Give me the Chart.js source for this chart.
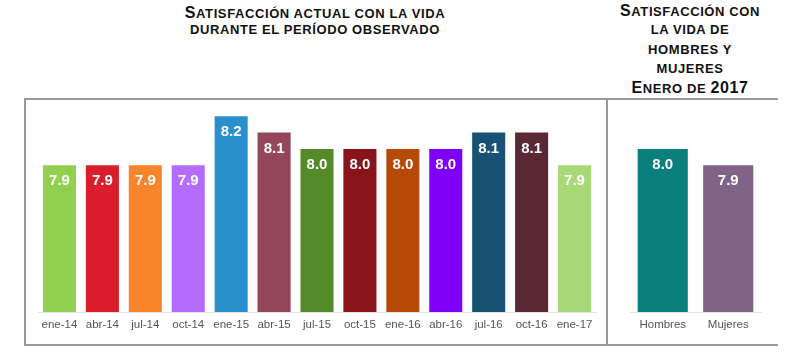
<!DOCTYPE html>
<html>
<head>
<meta charset="utf-8">
<script src="https://cdn.jsdelivr.net/npm/chart.js@4.4.1/dist/chart.umd.min.js"></script>
<style>
  html, body { margin: 0; padding: 0; background: #fff; }
  body { width: 800px; height: 363px; position: relative; overflow: hidden; font-family: "Liberation Sans", Arial, sans-serif; }
  .title { position: absolute; text-align: center; font-weight: bold; color: #111; text-transform: uppercase; font-size: 13px; letter-spacing: 0.6px; }
  .title .sc { font-size: 13px; }
  .title .big { font-size: 16px; }
  .title div { white-space: nowrap; overflow: visible; }
  #frame { position: absolute; left: 24px; top: 98px; width: 752px; height: 244px; border-top: 2px solid #999; border-left: 2px solid #999; border-bottom: 2px solid #999; box-sizing: content-box; }
  #divider { position: absolute; left: 606px; top: 98px; width: 2px; height: 246px; background: #999; }
  #leftWrap { position: absolute; left: 26px; top: 100px; width: 580px; height: 243px; }
  #rightWrap { position: absolute; left: 608px; top: 100px; width: 167px; height: 243px; }
</style>
</head>
<body>
<div class="title" id="t1" style="left:140px; top:4px; width:350px;">
  <div style="height:17px; line-height:17px;"><span class="big">S</span><span class="sc">atisfacción actual con la vida</span></div>
  <div style="height:17px; line-height:17px;"><span class="sc">durante el período observado</span></div>
</div>
<div class="title" id="t2" style="left:595px; top:1px; width:190px;">
  <div style="height:19.3px; line-height:19.3px;"><span class="big">S</span><span class="sc">atisfacción con</span></div>
  <div style="height:19.3px; line-height:19.3px;"><span class="sc">la vida de</span></div>
  <div style="height:19.3px; line-height:19.3px;"><span class="sc">hombres y</span></div>
  <div style="height:19.3px; line-height:19.3px;"><span class="sc">mujeres</span></div>
  <div style="height:19.3px; line-height:19.3px;"><span class="big">E</span><span class="sc">nero de </span><span class="big">2017</span></div>
</div>
<div id="frame"></div>
<div id="divider"></div>
<div id="leftWrap"><canvas id="c1"></canvas></div>
<div id="rightWrap"><canvas id="c2"></canvas></div>
<script>
const categories = ['ene-14','abr-14','jul-14','oct-14','ene-15','abr-15','jul-15','oct-15','ene-16','abr-16','jul-16','oct-16','ene-17'];
const values = [7.9, 7.9, 7.9, 7.9, 8.2, 8.1, 8.0, 8.0, 8.0, 8.0, 8.1, 8.1, 7.9];
const barColors = ['#92D050','#D91F2B','#F8852B','#B36CFF','#2A8FCD','#94475A','#548A2A','#891419','#B64A06','#7F00F7','#175173','#5B2934','#A8D977'];
const sexCategories = ['Hombres','Mujeres'];
const sexValues = [8.0, 7.9];
const sexColors = ['#0A7F7C','#806386'];

const FONT = '"Liberation Sans", Arial, Helvetica, sans-serif';

const valueLabels = {
  id: 'valueLabels',
  afterDatasetsDraw(chart) {
    const ctx = chart.ctx;
    ctx.save();
    ctx.fillStyle = '#fff';
    ctx.font = 'bold 15px ' + FONT;
    ctx.textAlign = 'center';
    ctx.textBaseline = 'middle';
    const meta = chart.getDatasetMeta(0);
    const data = chart.data.datasets[0].data;
    meta.data.forEach((bar, i) => {
      ctx.fillText(Number(data[i]).toFixed(1), bar.x, bar.y + 16);
    });
    ctx.restore();
  }
};

function makeChart(id, labels, data, colors, pad, barPct) {
  return new Chart(document.getElementById(id), {
    type: 'bar',
    data: { labels: labels, datasets: [{ data: data, backgroundColor: colors, borderWidth: 0, barPercentage: barPct, categoryPercentage: 1 }] },
    options: {
      responsive: true,
      maintainAspectRatio: false,
      animation: false,
      events: [],
      layout: { padding: { left: pad.left, right: pad.right, top: 0, bottom: 0 } },
      plugins: { legend: { display: false }, tooltip: { enabled: false }, title: { display: false } },
      scales: {
        y: { display: false, min: 7.0, max: 8.3 },
        x: {
          grid: { display: false, drawTicks: false },
          border: { display: true, color: '#e2e2e2', width: 1 },
          ticks: { color: '#555', font: { family: FONT, size: 11.5 }, padding: 6, maxRotation: 0, autoSkip: false },
          afterFit(scale) { scale.height = 31; }
        }
      }
    },
    plugins: [valueLabels]
  });
}

makeChart('c1', categories, values, barColors, { left: 12, right: 10 }, 0.77);
makeChart('c2', sexCategories, sexValues, sexColors, { left: 22, right: 14 }, 0.765);
</script>
</body>
</html>
